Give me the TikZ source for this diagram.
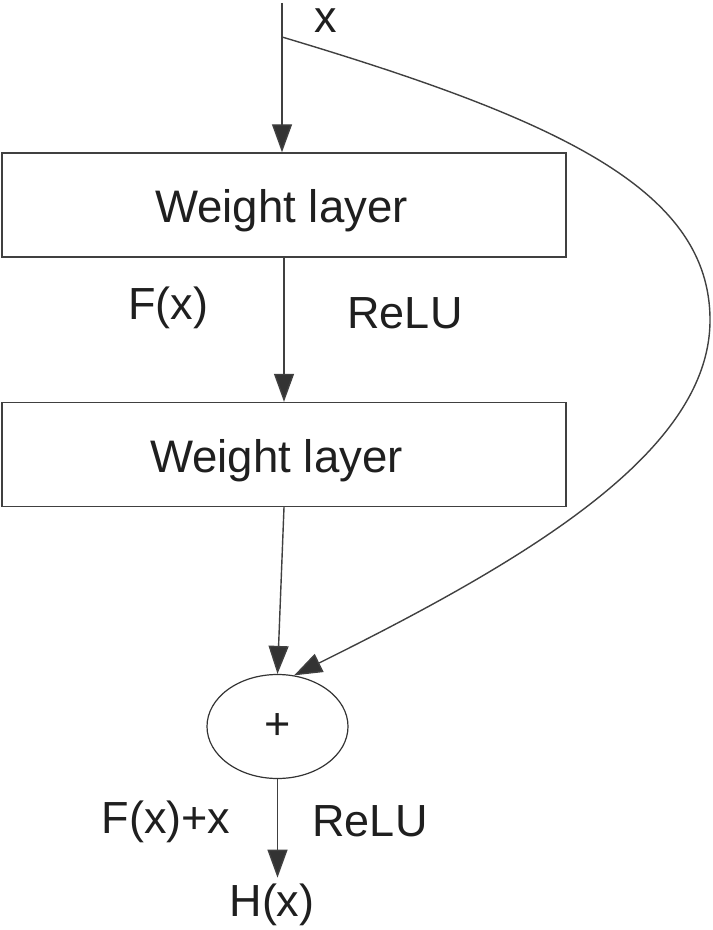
\documentclass[tikz,border=0pt]{standalone}
\usepackage{fontspec}
\setmainfont{Liberation Sans}
\usetikzlibrary{arrows.meta,shapes.geometric}

\tikzset{
  layer/.style={draw=black!75, line width=0.7pt, minimum width=282pt, minimum height=52pt, inner sep=0pt},
  sumnode/.style={draw=black!80, ellipse, line width=0.6pt, minimum width=70.5pt, minimum height=52pt, inner sep=0pt},
  flow/.style={draw=black!75, line width=0.7pt, -{Triangle[width=10pt,length=14pt,fill=black!80]}},
  txt/.style={text=black!88, font=\fontsize{22.5}{26}\selectfont},
  boxtxt/.style={text=black!88, font=\fontsize{22.8}{26}\selectfont, text height=16.3pt, text depth=0pt, inner sep=0pt}
}

\begin{document}
\begin{tikzpicture}[x=0.5pt,y=-0.5pt]
\useasboundingbox (0,0) rectangle (712,930);

\coordinate (in) at (282,3);
\coordinate (split) at (282,37);
\node[layer, label={[boxtxt, xshift=-1.25pt, yshift=-0.5pt]center:Weight layer}] (w1) at (284,205) {};
\node[layer, label={[boxtxt, xshift=-3.75pt, yshift=-0.75pt]center:Weight layer}] (w2) at (284,454.5) {};
\node[sumnode, txt] (sum) at (277.5,726.5) {+};
\node[txt, inner sep=3pt] (hx) at (272,905) {H(x)};

\draw[flow] (in) -- (in |- w1.north);
\draw[flow] (w1.south) -- (w2.north);
\draw[flow] (w2.south) -- (sum.north);
\draw[flow] (sum.south) -- (sum.south |- hx.north);
\draw[flow] (split) .. controls (560,120) and (710,190) .. (710,320)
  .. controls (710,450) and (533,557) .. (sum.72);

\node[txt] (xlbl) at (326,21) {x};
\node[txt] (fx) at (168,308) {F(x)};
\node[txt] (relu1) at (405,313.5) {ReLU};
\node[txt] (fxx) at (166,822) {F(x)+x};
\node[txt] (relu2) at (370,821) {ReLU};

\end{tikzpicture}
\end{document}
